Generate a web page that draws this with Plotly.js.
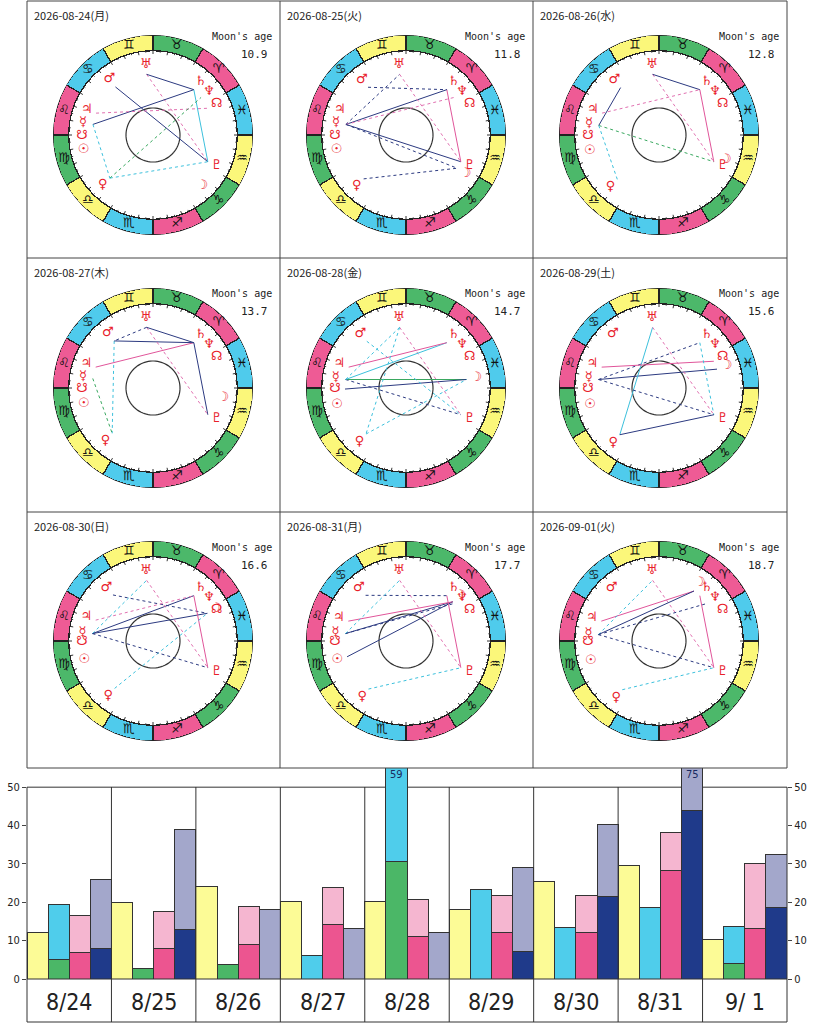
<!DOCTYPE html>
<html><head><meta charset="utf-8">
<script src="https://cdn.plot.ly/plotly-3.0.1.min.js"></script>
<style>body{margin:0;background:#fff}#c{width:816px;height:1024px}</style>
</head><body><div id="c"></div>
<script>
// ---------- data ----------
const dates = ["2026-08-24(月)","2026-08-25(火)","2026-08-26(水)","2026-08-27(木)","2026-08-28(金)","2026-08-29(土)","2026-08-30(日)","2026-08-31(月)","2026-09-01(火)"];
const moonAge = ["10.9","11.8","12.8","13.7","14.7","15.6","16.6","17.7","18.7"];
const signGlyphs = ["♈","♉","♊","♋","♌","♍","♎","♏","♐","♑","♒","♓"];
const signColors = ["#ee5b95","#4cb86a","#fbf77a","#4fcbec","#ee5b95","#4cb86a","#fbf77a","#4fcbec","#ee5b95","#4cb86a","#fbf77a","#4fcbec"];
const planetKeys = ["Su","Mo","Me","Ve","Ma","Ju","Sa","Ur","Ne","Pl","NN","SN"];
const planetGlyphs = ["☉","☽","☿","♀","♂","♃","♄","♅","♆","♇","☊","☋"];
// ecliptic longitude (as drawn) per day
const lonSu = [162,162,163,163,164,164,165,165,166];
const lonMo = [284,297,310,322,338,348,357,10,25];
const lonMe = [140,140,141,141,142,142,143,143,144];
const lonVe = [195,196,197,198,199,200,201,202,203];
const lonMa = [98,98.5,99,99.5,100,100.5,101,101.5,102];
const lonJu = [129,129,129,130,130,130,130,131,131];
const lonSa = [18,18,18,18,18,18,18,18,18];
const lonUr = [66,66,66,66,66,66,66,66,66];
const lonNe = [8,8,8,8,8,8,8,8,8];
const lonPl = [304,304,304,304,304,304,304,304,304];
const lonNN = [356,356,356,356,356,356,356,356,356];
const lonSN = [151,151,151,151,151,151,151,151,151];
const aspects = [
 ["Ur-Pl:p","Ma-Pl:N","Me-Sa:N","Ju-NN:p","Sa-Pl:C","Ve-Pl:c","Ve-Ne:g","Me-Ve:c","Ur-Sa:N"],
 ["Me-Ur:n","Me-Sa:N","Me-Pl:N","Me-Ne:p","Ur-Pl:p","Sa-Pl:P","Ve-Mo:n","Me-Mo:n","Ma-Sa:n"],
 ["Ma-Me:N","Me-Pl:g","Ur-Pl:p","Sa-Pl:P","Me-Ve:c","Ur-Sa:N","Ju-Sa:p"],
 ["Ju-Sa:P","Ma-Ve:c","Ma-Sa:N","Sa-Pl:N","Ur-Pl:p","Ur-Ma:n","Me-Ve:g","Ur-Sa:N"],
 ["Mo-Me:G","Mo-SN:N","Ma-Pl:c","Ur-Me:c","Me-Pl:n","Ur-Pl:p","Ve-Mo:c","Me-Sa:C","Ju-Sa:P","Ur-Ve:c"],
 ["Mo-Me:N","Ur-Ve:C","Me-Sa:n","Ju-NN:P","Ur-Pl:p","Sa-Pl:c","Me-Pl:n","Ve-Pl:N"],
 ["Mo-Me:N","Ma-Mo:n","Me-Sa:N","Ju-Sa:p","Ur-Pl:p","Sa-Pl:P","Ve-Mo:c","Me-Ur:c","Me-Pl:n"],
 ["Mo-Me:N","Mo-Su:N","Ju-Mo:P","Ma-Sa:n","Ur-Pl:p","Sa-Pl:P","Me-Ne:n","Me-Ur:c","Ve-Pl:c"],
 ["Ju-Mo:P","Ur-Pl:p","Sa-Pl:P","Me-Ne:n","Me-Pl:n","Me-Ur:c","Me-Mo:N","Ve-Pl:c"]
];
// bar chart
const barDates = ["8/24","8/25","8/26","8/27","8/28","8/29","8/30","8/31","9/ 1"];
const yellowV = [12,20,24.2,20.2,20.2,18.2,25.4,29.5,10.3];
const greenV  = [5,2.7,3.8,0,30.5,0,0,0,4];
const cyanV   = [14.5,0,0,6,28.5,23.3,13.3,18.6,9.8];
const magentaV= [7,8,9,14.2,11,12,12,28.4,13.2];
const lpinkV  = [9.5,9.7,9.8,9.6,9.8,9.8,9.8,9.8,17];
const navyV   = [8,13,0,0,0,7.2,21.4,43.8,18.7];
const lavV    = [18,26,18.2,13.1,12.2,21.8,18.8,31.2,13.7];
const overflowLabels = [null,null,null,null,"59",null,null,"75",null];
const overflowColumn = [null,null,null,null,1,null,null,3,null];

// ---------- build ----------
const W=816,H=1024;
const px=x=>x/W, py=y=>1-y/H;
const styles={N:["#2c3a80","solid"],n:["#2c3a80","dot"],P:["#e0559a","solid"],p:["#e070b0","dot"],C:["#3cc0dc","solid"],c:["#3cc0dc","dot"],G:["#3aa860","solid"],g:["#3aa860","dot"]};
const traces=[]; const layout={width:W,height:H,margin:{l:0,r:0,t:0,b:0},showlegend:false,paper_bgcolor:"#fff",plot_bgcolor:"#fff",shapes:[],annotations:[],barmode:"stack",bargap:0};
const colX=[153,406,659], rowY=[135,388,641];
const panelX=[27,280,533,787], panelY=[1,258,512,768];
const R=100;
for(let i=0;i<9;i++){
  const key=i?"polar"+(i+1):"polar";
  const cx=colX[i%3], cy=rowY[Math.floor(i/3)];
  layout[key]={domain:{x:[px(cx-R),px(cx+R)],y:[py(cy+R),py(cy-R)]},bgcolor:"rgba(0,0,0,0)",
    radialaxis:{visible:false,range:[0,300]},angularaxis:{visible:false,direction:"counterclockwise",rotation:0}};
  const T=l=>l+30;
  traces.push({type:"barpolar",subplot:key,r:signGlyphs.map(()=>47),base:signGlyphs.map(()=>253),theta:signGlyphs.map((s,k)=>T(30*k+15)),width:signGlyphs.map(()=>30),
    marker:{color:signColors,line:{color:"#222",width:1.3}},hoverinfo:"skip"});
  traces.push({type:"scatterpolar",subplot:key,mode:"text",r:signGlyphs.map(()=>277),theta:signGlyphs.map((s,k)=>T(30*k+15)),text:signGlyphs,
    textfont:{family:"DejaVu Sans",size:13,color:"#111"},hoverinfo:"skip"});
  const tr=[],tt=[];
  for(let d=0;d<360;d+=5){tr.push(253,(d%10===0)?243:248,null);tt.push(T(d),T(d),null);}
  traces.push({type:"scatterpolar",subplot:key,mode:"lines",r:tr,theta:tt,line:{color:"#333",width:1},hoverinfo:"skip"});
  const cr=[],ct=[];for(let d=0;d<=360;d+=4){cr.push(81);ct.push(d);}
  traces.push({type:"scatterpolar",subplot:key,mode:"lines",r:cr,theta:ct,line:{color:"#333",width:1.2},hoverinfo:"skip"});
  const lons={Su:lonSu[i],Mo:lonMo[i],Me:lonMe[i],Ve:lonVe[i],Ma:lonMa[i],Ju:lonJu[i],Sa:lonSa[i],Ur:lonUr[i],Ne:lonNe[i],Pl:lonPl[i],NN:lonNN[i],SN:lonSN[i]};
  aspects[i].forEach(a=>{
    const [pair,st]=a.split(":"); const [p1,p2]=pair.split("-");
    traces.push({type:"scatterpolar",subplot:key,mode:"lines",r:[183,183],theta:[T(lons[p1]),T(lons[p2])],
      line:{color:styles[st][0],dash:styles[st][1],width:1},hoverinfo:"skip"});
  });
  traces.push({type:"scatterpolar",subplot:key,mode:"text",r:planetKeys.map(()=>213),theta:planetKeys.map(k=>T(lons[k])),text:planetGlyphs,
    textfont:{family:"DejaVu Sans",size:13,color:"#e8202a"},hoverinfo:"skip"});
  const x0=panelX[i%3], x1=panelX[i%3+1], y0=panelY[Math.floor(i/3)];
  layout.annotations.push({xref:"paper",yref:"paper",x:px(x0+5),y:py(y0+14),xanchor:"left",yanchor:"middle",showarrow:false,text:dates[i],font:{family:"Noto Sans CJK JP",size:11,color:"#222"}});
  layout.annotations.push({xref:"paper",yref:"paper",x:px(x1-6),y:py(y0+35),xanchor:"right",yanchor:"middle",showarrow:false,text:"Moon's age",font:{family:"DejaVu Sans Mono",size:10,color:"#222"}});
  layout.annotations.push({xref:"paper",yref:"paper",x:px(x1-10),y:py(y0+53),xanchor:"right",yanchor:"middle",showarrow:false,text:moonAge[i],font:{family:"DejaVu Sans Mono",size:11,color:"#222"}});
}
for(const x of panelX) layout.shapes.push({type:"line",xref:"paper",yref:"paper",x0:px(x),x1:px(x),y0:py(1),y1:py(768),line:{color:"#444",width:1}});
for(const y of panelY) layout.shapes.push({type:"line",xref:"paper",yref:"paper",x0:px(27),x1:px(787),y0:py(y),y1:py(y),line:{color:"#444",width:1}});

const bar=(vals,off,color)=>traces.push({type:"bar",x:vals.map((v,g)=>4*g+off),y:vals,width:1,marker:{color:color,line:{color:"#333",width:1}},xaxis:"x",yaxis:"y",hoverinfo:"skip"});
bar(yellowV,0,"#fcfb96"); bar(greenV,1,"#4bb767"); bar(cyanV,1,"#4fcdeb");
bar(magentaV,2,"#ec5590"); bar(lpinkV,2,"#f5b6d0"); bar(navyV,3,"#1f3a8a"); bar(lavV,3,"#a3a7cb");
layout.xaxis={domain:[px(27),px(787)],range:[-0.5,35.5],showticklabels:false,showgrid:false,zeroline:false,ticks:""};
const tf={family:"DejaVu Sans Condensed, Liberation Sans",size:11,color:"#222"};
layout.yaxis={domain:[py(979),py(768)],range:[0,55],tickvals:[0,10,20,30,40,50],ticks:"outside",ticklen:4,showgrid:false,zeroline:false,showline:false,tickfont:tf};
layout.yaxis2={overlaying:"y",side:"right",anchor:"x",range:[0,55],tickvals:[0,10,20,30,40,50],ticks:"outside",ticklen:4,showgrid:false,zeroline:false,tickfont:tf};
traces.push({type:"scatter",x:[0],y:[0],yaxis:"y2",mode:"markers",marker:{opacity:0},hoverinfo:"skip"});
layout.shapes.push({type:"line",xref:"x",yref:"y",x0:-0.5,x1:35.5,y0:50,y1:50,layer:"below",line:{color:"#333",width:1}});
layout.shapes.push({type:"line",xref:"paper",yref:"paper",x0:px(27),x1:px(787),y0:py(979),y1:py(979),line:{color:"#333",width:1}});
layout.shapes.push({type:"line",xref:"paper",yref:"paper",x0:px(27),x1:px(787),y0:py(1022),y1:py(1022),line:{color:"#333",width:1}});
for(const xx of [27,787]) layout.shapes.push({type:"line",xref:"paper",yref:"paper",x0:px(xx),x1:px(xx),y0:py(787),y1:py(1022),line:{color:"#333",width:1}});
for(let g=0;g<8;g++) layout.shapes.push({type:"line",xref:"x",yref:"paper",x0:3.5+4*g,x1:3.5+4*g,y0:py(787),y1:py(1022),line:{color:"#333",width:1}});
barDates.forEach((d,g)=>{
  layout.annotations.push({xref:"x",yref:"paper",x:4*g+1.5,y:py(1002),yanchor:"middle",showarrow:false,text:d,font:{family:"DejaVu Sans Condensed, Liberation Sans",size:23,color:"#222"}});
  if(overflowLabels[g]) layout.annotations.push({xref:"x",yref:"y",x:4*g+overflowColumn[g],y:53.3,showarrow:false,text:overflowLabels[g],font:{family:"DejaVu Sans Condensed, Liberation Sans",size:11,color:"#1a2a60"}});
});
Plotly.newPlot("c",traces,layout,{staticPlot:true});
</script></body></html>
